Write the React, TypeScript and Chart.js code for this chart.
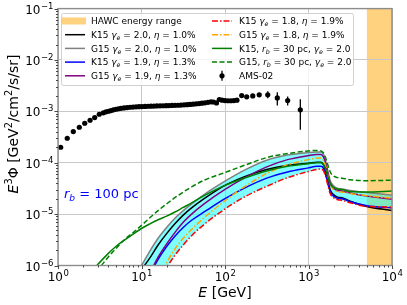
import React, { useEffect, useRef } from "react";
import { Chart, registerables } from "chart.js";
Chart.register(...registerables);

const FONT = '"DejaVu Sans", sans-serif';

// ---------------- data ----------------
const modelE = [2.51, 3.16, 3.98, 5.01, 6.31, 7.94, 10, 12.6, 15.8, 20, 25.1, 31.6, 39.8, 56.2, 100, 178, 316, 562, 1000, 1259, 1413, 1514, 1585, 1660, 1738, 1820, 1995, 2239, 2512, 3162, 5012, 10000];

const fluxG15g20 = [null, null, null, null, null, 5.01e-7, 1.0e-6, 1.91e-6, 3.39e-6, 5.5e-6, 8.32e-6, 1.17e-5, 1.58e-5, 2.4e-5, 4.37e-5, 7.41e-5, 1.12e-4, 1.41e-4, 1.58e-4, 1.62e-4, 1.62e-4, 1.45e-4, 1.17e-4, 8.32e-5, 6.03e-5, 4.47e-5, 3.55e-5, 3.16e-5, 3.09e-5, 2.88e-5, 2.63e-5, 2.34e-5];
const fluxK15g20 = [null, null, null, null, null, null, 8.32e-7, 1.41e-6, 2.51e-6, 4.17e-6, 6.46e-6, 9.55e-6, 1.32e-5, 2.0e-5, 3.63e-5, 5.5e-5, 7.41e-5, 8.91e-5, 9.77e-5, 1.02e-4, 1.02e-4, 9.12e-5, 7.41e-5, 5.37e-5, 3.98e-5, 2.95e-5, 2.4e-5, 2.14e-5, 2.09e-5, 1.78e-5, 1.41e-5, 1.17e-5];
const fluxK15g19 = [null, null, null, null, null, null, null, 6.61e-7, 1.32e-6, 2.34e-6, 3.72e-6, 5.5e-6, 7.59e-6, 1.1e-5, 2.0e-5, 3.31e-5, 5.01e-5, 6.61e-5, 7.94e-5, 8.51e-5, 8.51e-5, 7.76e-5, 6.31e-5, 4.79e-5, 3.55e-5, 2.75e-5, 2.24e-5, 2.04e-5, 2.0e-5, 1.74e-5, 1.45e-5, 1.32e-5];
const fluxG15g19 = [null, null, null, null, null, null, null, 7.08e-7, 1.45e-6, 2.63e-6, 4.37e-6, 6.92e-6, 1.0e-5, 1.58e-5, 3.02e-5, 5.25e-5, 8.32e-5, 1.15e-4, 1.38e-4, 1.45e-4, 1.45e-4, 1.29e-4, 1.05e-4, 7.59e-5, 5.37e-5, 4.07e-5, 3.24e-5, 2.88e-5, 2.82e-5, 2.57e-5, 2.24e-5, 1.95e-5];
const fluxK15g18 = [null, null, null, null, null, 2.51e-8, 6.31e-8, 1.58e-7, 3.98e-7, 8.91e-7, 1.58e-6, 2.51e-6, 3.8e-6, 6.31e-6, 1.26e-5, 2.24e-5, 3.47e-5, 5.13e-5, 6.76e-5, 7.41e-5, 7.59e-5, 6.92e-5, 5.75e-5, 4.37e-5, 3.24e-5, 2.51e-5, 2.09e-5, 1.91e-5, 1.86e-5, 1.66e-5, 1.41e-5, 1.38e-5];
const fluxG15g18 = [null, null, null, null, null, null, null, null, 5.01e-7, 1.12e-6, 2.09e-6, 3.39e-6, 5.01e-6, 8.51e-6, 1.82e-5, 3.55e-5, 6.17e-5, 9.12e-5, 1.15e-4, 1.23e-4, 1.23e-4, 1.1e-4, 9.12e-5, 6.76e-5, 4.9e-5, 3.8e-5, 3.02e-5, 2.75e-5, 2.69e-5, 2.51e-5, 2.29e-5, 2.04e-5];
const fluxK15rb30 = [7.59e-7, 1.15e-6, 1.7e-6, 2.4e-6, 3.16e-6, 4.07e-6, 5.25e-6, 6.46e-6, 7.76e-6, 9.12e-6, 1.1e-5, 1.35e-5, 1.66e-5, 2.29e-5, 3.63e-5, 5.13e-5, 6.92e-5, 8.51e-5, 9.55e-5, 1.0e-4, 1.0e-4, 9.12e-5, 7.94e-5, 6.17e-5, 4.9e-5, 3.89e-5, 3.31e-5, 3.09e-5, 3.02e-5, 2.75e-5, 2.69e-5, 2.82e-5];
const fluxG15rb30 = [6.03e-7, 9.12e-7, 1.45e-6, 2.19e-6, 3.24e-6, 4.37e-6, 6.03e-6, 8.51e-6, 1.17e-5, 1.58e-5, 2.09e-5, 2.69e-5, 3.39e-5, 4.57e-5, 6.46e-5, 9.12e-5, 1.26e-4, 1.51e-4, 1.7e-4, 1.74e-4, 1.7e-4, 1.55e-4, 1.32e-4, 1.05e-4, 8.13e-5, 6.61e-5, 5.5e-5, 5.13e-5, 5.01e-5, 4.68e-5, 4.47e-5, 4.57e-5];

const amsE = [1.077, 1.29, 1.525, 1.8, 2.09, 2.42, 2.75, 3.12, 3.49, 3.76, 4.03, 4.31, 4.62, 4.95, 5.3, 5.68, 6.17, 6.71, 7.28, 7.91, 8.59, 9.33, 10.1, 11.0, 11.96, 13.0, 14.1, 15.3, 16.7, 18.1, 19.7, 21.3, 23.2, 25.2, 27.4, 29.7, 32.3, 35.1, 38.1, 41.4, 45.0, 48.8, 53.0, 57.6, 62.6, 68.0, 72.8, 79.1, 85.5, 92.1, 100, 108.6, 118, 128, 139, 158.5, 182, 215, 257, 325, 423, 563, 798];
const amsF = [2.0e-4, 3.0e-4, 4.05e-4, 4.91e-4, 5.87e-4, 6.71e-4, 7.57e-4, 8.78e-4, 9.35e-4, 9.78e-4, 1.005e-3, 1.036e-3, 1.069e-3, 1.099e-3, 1.124e-3, 1.144e-3, 1.165e-3, 1.186e-3, 1.202e-3, 1.213e-3, 1.224e-3, 1.235e-3, 1.24e-3, 1.246e-3, 1.257e-3, 1.263e-3, 1.268e-3, 1.274e-3, 1.279e-3, 1.285e-3, 1.291e-3, 1.296e-3, 1.302e-3, 1.308e-3, 1.314e-3, 1.326e-3, 1.338e-3, 1.35e-3, 1.362e-3, 1.38e-3, 1.399e-3, 1.418e-3, 1.443e-3, 1.469e-3, 1.496e-3, 1.53e-3, 1.52e-3, 1.46e-3, 1.7e-3, 1.652e-3, 1.622e-3, 1.608e-3, 1.608e-3, 1.622e-3, 1.652e-3, 2.03e-3, 1.914e-3, 2.0e-3, 2.095e-3, 2.095e-3, 1.83e-3, 1.622e-3, 1.069e-3];
const amsErrE = [215, 257, 325, 423, 563, 798];
const amsErrLo = [1.93e-3, 1.95e-3, 1.8e-3, 1.3e-3, 1.3e-3, 4.4e-4];
const amsErrHi = [2.07e-3, 2.26e-3, 2.45e-3, 2.36e-3, 1.94e-3, 1.72e-3];

const hawcRange = [5000, 10000];
const xTickValues = [1, 10, 100, 1000, 10000];
const xTickExps = ["0", "1", "2", "3", "4"];
const yTickValues = [1e-6, 1e-5, 1e-4, 1e-3, 1e-2, 1e-1];
const yTickExps = ["\u22126", "\u22125", "\u22124", "\u22123", "\u22122", "\u22121"];

type Seg = [string, string];
const labelHawc: Seg[] = [["HAWC energy range", "n"]];
const labelK20: Seg[] = [["K15 ", "n"], ["\u03b3", "i"], ["e", "sub"], [" = 2.0, ", "n"], ["\u03b7", "i"], [" = 1.0%", "n"]];
const labelG20: Seg[] = [["G15 ", "n"], ["\u03b3", "i"], ["e", "sub"], [" = 2.0, ", "n"], ["\u03b7", "i"], [" = 1.0%", "n"]];
const labelK19: Seg[] = [["K15 ", "n"], ["\u03b3", "i"], ["e", "sub"], [" = 1.9, ", "n"], ["\u03b7", "i"], [" = 1.3%", "n"]];
const labelG19: Seg[] = [["G15 ", "n"], ["\u03b3", "i"], ["e", "sub"], [" = 1.9, ", "n"], ["\u03b7", "i"], [" = 1.3%", "n"]];
const labelK18: Seg[] = [["K15 ", "n"], ["\u03b3", "i"], ["e", "sub"], [" = 1.8, ", "n"], ["\u03b7", "i"], [" = 1.9%", "n"]];
const labelG18: Seg[] = [["G15 ", "n"], ["\u03b3", "i"], ["e", "sub"], [" = 1.8, ", "n"], ["\u03b7", "i"], [" = 1.9%", "n"]];
const labelKrb: Seg[] = [["K15, ", "n"], ["r", "i"], ["b", "sub"], [" = 30 pc, ", "n"], ["\u03b3", "i"], ["e", "sub"], [" = 2.0", "n"]];
const labelGrb: Seg[] = [["G15, ", "n"], ["r", "i"], ["b", "sub"], [" = 30 pc, ", "n"], ["\u03b3", "i"], ["e", "sub"], [" = 2.0", "n"]];
const labelAms: Seg[] = [["AMS-02", "n"]];
const xTitle: Seg[] = [["E", "i"], [" [GeV]", "n"]];
const yTitle: Seg[] = [["E", "i"], ["3", "sup"], ["\u03a6", "n"], [" [GeV", "n"], ["2", "sup"], ["/cm", "n"], ["2", "sup"], ["/s/sr]", "n"]];
const rbNote: Seg[] = [["r", "i"], ["b", "sub"], [" = 100 pc", "n"]];

// ---------------- styles ----------------
const C_GRAY = "#808080";
const C_BLACK = "#000000";
const C_BLUE = "#0000ff";
const C_PURPLE = "#800080";
const C_RED = "#ff0000";
const C_ORANGE = "#ffa500";
const C_GREEN = "#008000";
const DASHDOT = [6, 2, 1.5, 2];
const DASHED = [5, 2.5];
const BAND = "rgba(0,255,255,0.5)";
const HAWC = "rgba(255,165,0,0.5)";

function segFont(kind: string, size: number) {
  let fs = size;
  let style = "";
  let dy = 0;
  if (kind === "i") style = "italic ";
  if (kind === "sub") { fs = size * 0.7; dy = size * 0.22; style = "italic "; }
  if (kind === "sup") { fs = size * 0.7; dy = -size * 0.42; }
  return { font: `${style}${fs}px ${FONT}`, dy };
}
function measureSegs(ctx: any, segs: Seg[], size: number) {
  let w = 0;
  for (const [t, k] of segs) {
    ctx.font = segFont(k, size).font;
    w += ctx.measureText(t).width;
  }
  return w;
}
function drawSegs(ctx: any, segs: Seg[], x: number, y: number, size: number) {
  let cx = x;
  ctx.textAlign = "left";
  ctx.textBaseline = "alphabetic";
  for (const [t, k] of segs) {
    const f = segFont(k, size);
    ctx.font = f.font;
    ctx.fillText(t, cx, y + f.dy);
    cx += ctx.measureText(t).width;
  }
}
function drawPow(ctx: any, exp: string, x: number, y: number, align: string) {
  ctx.font = `12px ${FONT}`;
  const wb = ctx.measureText("10").width;
  ctx.font = `8.5px ${FONT}`;
  const we = ctx.measureText(exp).width;
  const x0 = align === "center" ? x - (wb + we) / 2 : x - wb - we;
  ctx.textAlign = "left";
  ctx.textBaseline = "alphabetic";
  ctx.fillStyle = "#000";
  ctx.font = `12px ${FONT}`;
  ctx.fillText("10", x0, y);
  ctx.font = `8.5px ${FONT}`;
  ctx.fillText(exp, x0 + wb + 0.5, y - 5);
}

const legendCol1 = [
  { segs: labelHawc, kind: "patch", color: HAWC, dash: [] as number[] },
  { segs: labelK20, kind: "line", color: C_BLACK, dash: [] as number[] },
  { segs: labelG20, kind: "line", color: C_GRAY, dash: [] as number[] },
  { segs: labelK19, kind: "line", color: C_BLUE, dash: [] as number[] },
  { segs: labelG19, kind: "line", color: C_PURPLE, dash: [] as number[] },
];
const legendCol2 = [
  { segs: labelK18, kind: "line", color: C_RED, dash: DASHDOT },
  { segs: labelG18, kind: "line", color: C_ORANGE, dash: DASHDOT },
  { segs: labelKrb, kind: "line", color: C_GREEN, dash: [] as number[] },
  { segs: labelGrb, kind: "line", color: C_GREEN, dash: DASHED },
  { segs: labelAms, kind: "err", color: C_BLACK, dash: [] as number[] },
];

const decor = {
  id: "decor",
  beforeDraw(chart: any) {
    const { ctx, chartArea: a, scales } = chart;
    const xs = scales.x;
    const x1 = xs.getPixelForValue(hawcRange[0]);
    const x2 = xs.getPixelForValue(hawcRange[1]);
    ctx.save();
    ctx.fillStyle = HAWC;
    ctx.fillRect(x1, a.top, x2 - x1, a.bottom - a.top);
    ctx.restore();
  },
  afterDatasetsDraw(chart: any) {
    const { ctx, chartArea: a, scales } = chart;
    const xs = scales.x;
    const ys = scales.y;
    ctx.save();
    // error bars
    ctx.strokeStyle = "#000";
    ctx.lineWidth = 1.3;
    for (let i = 0; i < amsErrE.length; i++) {
      const x = xs.getPixelForValue(amsErrE[i]);
      ctx.beginPath();
      ctx.moveTo(x, ys.getPixelForValue(amsErrLo[i]));
      ctx.lineTo(x, ys.getPixelForValue(amsErrHi[i]));
      ctx.stroke();
    }
    // frame
    ctx.strokeStyle = "#8c8c8c";
    ctx.lineWidth = 1.4;
    ctx.strokeRect(a.left, a.top, a.right - a.left, a.bottom - a.top);
    // ticks
    ctx.strokeStyle = "#333";
    ctx.lineWidth = 0.9;
    ctx.beginPath();
    xTickValues.forEach((v) => {
      const x = Math.round(xs.getPixelForValue(v)) + 0.5;
      ctx.moveTo(x, a.bottom); ctx.lineTo(x, a.bottom + 3.5);
    });
    for (let d = 0; d < 4; d++) for (let k = 2; k < 10; k++) {
      const x = Math.round(xs.getPixelForValue(k * Math.pow(10, d))) + 0.5;
      ctx.moveTo(x, a.bottom); ctx.lineTo(x, a.bottom + 2);
    }
    yTickValues.forEach((v) => {
      const y = Math.round(ys.getPixelForValue(v)) + 0.5;
      ctx.moveTo(a.left - 3.5, y); ctx.lineTo(a.left, y);
    });
    for (let d = -6; d < -1; d++) for (let k = 2; k < 10; k++) {
      const y = Math.round(ys.getPixelForValue(k * Math.pow(10, d))) + 0.5;
      ctx.moveTo(a.left - 2, y); ctx.lineTo(a.left, y);
    }
    ctx.stroke();
    // tick labels
    xTickValues.forEach((v, i) => drawPow(ctx, xTickExps[i], xs.getPixelForValue(v), a.bottom + 15, "center"));
    yTickValues.forEach((v, i) => drawPow(ctx, yTickExps[i], a.left - 5, ys.getPixelForValue(v) + 5, "right"));
    // axis titles
    ctx.fillStyle = "#000";
    const wx = measureSegs(ctx, xTitle, 14);
    drawSegs(ctx, xTitle, (a.left + a.right) / 2 - wx / 2, 297, 14);
    const wy = measureSegs(ctx, yTitle, 14);
    ctx.save();
    ctx.translate(18, 124);
    ctx.rotate(-Math.PI / 2);
    drawSegs(ctx, yTitle, -wy / 2, 0, 14);
    ctx.restore();
    // r_b note
    ctx.fillStyle = C_BLUE;
    drawSegs(ctx, rbNote, 64, 198, 13);
    // legend
    const lx = 61, ly = 13, lw = 292, lh = 72;
    ctx.fillStyle = "rgba(255,255,255,0.8)";
    ctx.strokeStyle = "#d0d0d0";
    ctx.lineWidth = 1;
    ctx.beginPath();
    ctx.roundRect(lx + 0.5, ly + 0.5, lw, lh, 2);
    ctx.fill();
    ctx.stroke();
    const rows = [21, 34.7, 48.4, 62.1, 75.8];
    const drawEntries = (entries: any[], hx0: number, hx1: number, tx: number) => {
      entries.forEach((e, i) => {
        const y = rows[i];
        if (e.kind === "patch") {
          ctx.fillStyle = e.color;
          ctx.fillRect(hx0 - 3, y - 3.5, hx1 - hx0 + 4, 7);
        } else if (e.kind === "line") {
          ctx.strokeStyle = e.color;
          ctx.lineWidth = 1.5;
          ctx.setLineDash(e.dash);
          ctx.beginPath();
          ctx.moveTo(hx0, y); ctx.lineTo(hx1, y);
          ctx.stroke();
          ctx.setLineDash([]);
        } else {
          const cx = (hx0 + hx1) / 2;
          ctx.strokeStyle = "#000";
          ctx.lineWidth = 1.3;
          ctx.beginPath();
          ctx.moveTo(cx, y - 5); ctx.lineTo(cx, y + 5);
          ctx.stroke();
          ctx.fillStyle = "#000";
          ctx.beginPath();
          ctx.arc(cx, y, 2.6, 0, Math.PI * 2);
          ctx.fill();
        }
        ctx.fillStyle = "#000";
        drawSegs(ctx, e.segs, tx, y + 3.3, 9);
      });
    };
    drawEntries(legendCol1, 65, 85, 91);
    drawEntries(legendCol2, 212, 232, 239);
    ctx.restore();
  },
};

export default function App() {
  const ref = useRef<HTMLCanvasElement>(null);
  useEffect(() => {
    const canvas = ref.current!;
    const mk = (arr: any[]) => modelE.map((e, i) => ({ x: e, y: arr[i] }));
    const lineDs = (label: string, arr: any[], color: string, dash: number[], order: number, extra: any = {}) => ({
      label,
      data: mk(arr),
      borderColor: color,
      backgroundColor: color,
      borderWidth: 1.5,
      borderDash: dash,
      pointRadius: 0,
      fill: false,
      cubicInterpolationMode: "monotone",
      spanGaps: false,
      order,
      ...extra,
    });
    const chart = new Chart(canvas, {
      type: "line",
      data: {
        datasets: [
          lineDs("G15 gamma 2.0", fluxG15g20, C_GRAY, [], 8, { fill: 4, backgroundColor: BAND }),
          lineDs("K15 gamma 2.0", fluxK15g20, C_BLACK, [], 7),
          lineDs("K15 gamma 1.9", fluxK15g19, C_BLUE, [], 6),
          lineDs("G15 gamma 1.9", fluxG15g19, C_PURPLE, [], 5),
          lineDs("K15 gamma 1.8", fluxK15g18, C_RED, DASHDOT, 4),
          lineDs("G15 gamma 1.8", fluxG15g18, C_ORANGE, DASHDOT, 3),
          lineDs("K15 rb 30", fluxK15rb30, C_GREEN, [], 2),
          lineDs("G15 rb 30", fluxG15rb30, C_GREEN, DASHED, 1),
          {
            label: "AMS-02",
            data: amsE.map((e, i) => ({ x: e, y: amsF[i] })),
            showLine: false,
            pointRadius: 2.6,
            pointBackgroundColor: "#000",
            pointBorderWidth: 0,
            borderColor: "#000",
            backgroundColor: "#000",
            order: 0,
          } as any,
        ],
      },
      options: {
        animation: false,
        responsive: false,
        maintainAspectRatio: false,
        events: [],
        layout: { padding: { left: 0, right: 15, top: 8.6, bottom: 0 } },
        plugins: {
          legend: { display: false },
          tooltip: { enabled: false },
          filler: { drawTime: "beforeDatasetsDraw" },
        } as any,
        scales: {
          x: {
            type: "logarithmic",
            min: 1,
            max: 10000,
            afterBuildTicks: (s: any) => { s.ticks = xTickValues.map((v) => ({ value: v })); },
            afterFit: (s: any) => { s.height = 39.5; },
            ticks: { display: false },
            grid: { color: "#c8c8c8", lineWidth: 1, drawTicks: false },
            border: { display: false },
          },
          y: {
            type: "logarithmic",
            min: 1e-6,
            max: 1e-1,
            afterBuildTicks: (s: any) => { s.ticks = yTickValues.map((v) => ({ value: v })); },
            afterFit: (s: any) => { s.width = 58; },
            ticks: { display: false },
            grid: { color: "#c8c8c8", lineWidth: 1, drawTicks: false },
            border: { display: false },
          },
        } as any,
      },
      plugins: [decor],
    } as any);
    return () => chart.destroy();
  }, []);
  return (
    <div style={{ position: "fixed", left: 0, top: 0, width: 407, height: 305, background: "#fff" }}>
      <canvas ref={ref} width={407} height={305} style={{ display: "block", width: 407, height: 305 }} />
    </div>
  );
}
